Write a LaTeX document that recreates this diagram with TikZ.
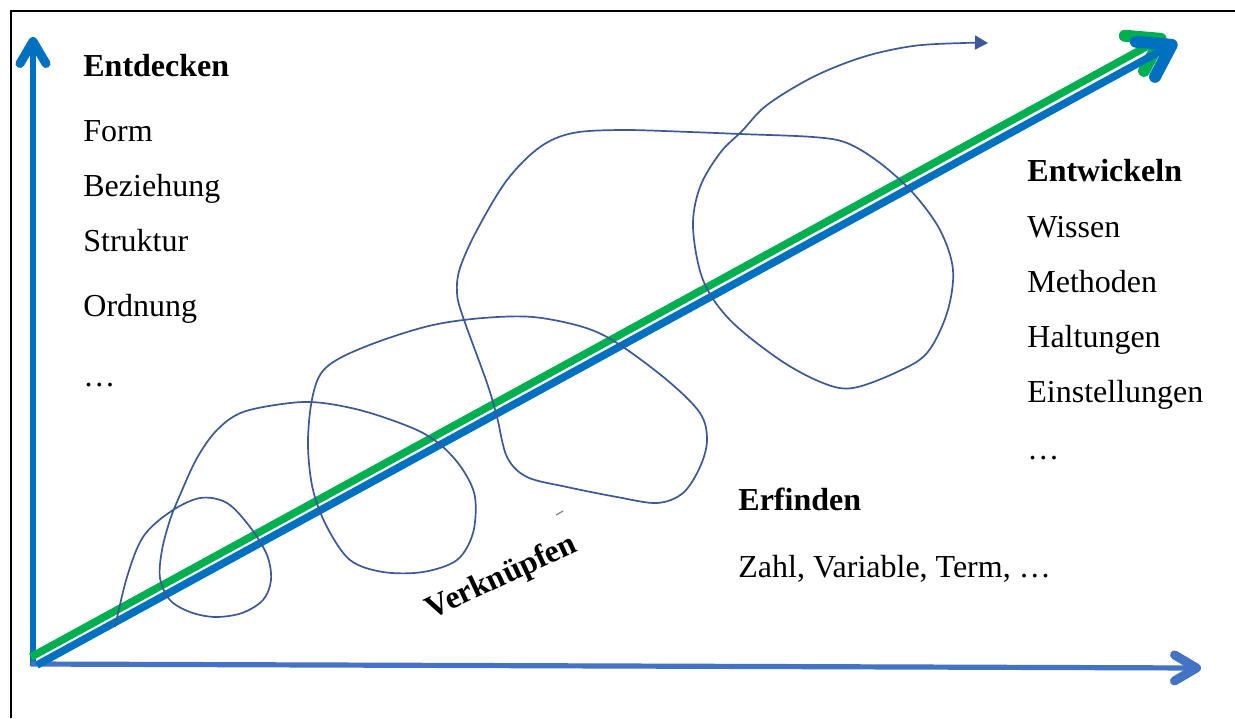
\documentclass[tikz,border=0pt]{standalone}
\usepackage{fontspec}
\setmainfont{Liberation Serif}
\usetikzlibrary{arrows.meta}
\definecolor{axisblue}{RGB}{0,112,192}
\definecolor{axisblue2}{RGB}{68,114,196}
\definecolor{lgreen}{RGB}{0,176,80}
\definecolor{spiralc}{RGB}{60,88,152}
\begin{document}
\begin{tikzpicture}[x=0.5pt,y=-0.5pt,
  txt/.style={anchor=base west, inner sep=0pt, font=\fontsize{16}{19}\selectfont},
  hd/.style={anchor=base west, inner sep=0pt, font=\fontsize{16}{19}\selectfont\bfseries},
  axisline/.style={line width=2.6pt, -{Straight Barb[length=11pt,width=13pt,line width=4.5pt,line cap=round,line join=round]}},
  diagline/.style={line width=3.8pt, -{Straight Barb[length=15pt,width=20pt,line width=6pt,line cap=round,line join=round]}},
  spiralline/.style={spiralc, line width=0.85pt, -{Triangle[length=6.5pt,width=7pt]}}
]
\useasboundingbox (0,0) rectangle (1235,718);
% frame (left and top edges)
\draw[line width=1pt] (11,718) -- (11,11) -- (1235,11);

% coordinates
\coordinate (O) at (33,666);
\coordinate (Ytip) at (33,37);
\coordinate (Xs) at (31,664);
\coordinate (Xtip) at (1201,668);
\coordinate (Gs) at (31,657);
\coordinate (Gtip) at (1166,36);
\coordinate (Bs) at (37,665);
\coordinate (Btip) at (1177,42);

% axes
\draw[axisline, axisblue] (O) -- (Ytip);
\draw[axisline, axisblue2] (Xs) -- (Xtip);
% diagonal arrows
\draw[diagline, lgreen] (Gs) -- (Gtip);
\draw[diagline, axisblue] (Bs) -- (Btip);

% spiral
\draw[spiralline] plot[smooth, tension=0.55] coordinates {
(115,627) (127,577) (143,537) (170,512) (200,498) (227,503) (250,527) (267,555) (271,580) (263,600) (242,613) (215,617) (190,612) (170,600) (160,578) (162,550) (170,520) (180,495) (197,458) (217,430) (243,412) (290,403) (323,403) (367,412) (417,430) (443,447) (463,470) (475,497) (473,533) (457,560) (423,572) (383,572) (350,560) (327,527) (313,490) (308,447) (311,405) (320,375) (340,358) (383,340) (433,325) (483,318) (533,317) (583,327) (617,343) (667,380) (700,413) (707,440) (700,467) (683,493) (657,503) (617,497) (567,487) (527,477) (507,457) (497,417) (487,383) (463,317) (457,293) (460,268) (477,230) (507,180) (540,147) (573,133) (623,130) (690,132) (740,134) (813,137) (847,143) (880,163) (913,193) (940,230) (953,270) (947,313) (927,353) (897,372) (853,388) (823,383) (780,360) (730,320) (703,280) (693,227) (700,187) (720,153) (742,131) (767,105) (813,77) (863,57) (913,46) (963,43) (988,43)};

% small mark
\draw[gray, line width=0.6pt] (556,515) -- (563,511);

% left texts
\node[hd] (ent) at (83,76) {Entdecken};
\node[txt] (form) at (83,141) {Form};
\node[txt] (bez) at (83,196) {Beziehung};
\node[txt] (str) at (83,251) {Struktur};
\node[txt] (ord) at (83,316) {Ordnung};
\node[txt] (dots1) at (83,386) {…};

% right texts
\node[hd] (entw) at (1027,181) {Entwickeln};
\node[txt] (wis) at (1027,237) {Wissen};
\node[txt] (met) at (1027,292) {Methoden};
\node[txt] (hal) at (1027,347) {Haltungen};
\node[txt] (ein) at (1027,402) {Einstellungen};
\node[txt] (dots2) at (1027,459) {…};

% Erfinden
\node[hd] (erf) at (738,510) {Erfinden};
\node[txt] (zahl) at (738,577) {Zahl, Variable, Term, …};

% Verknuepfen
\node[inner sep=0pt, font=\fontsize{16}{19}\selectfont\bfseries, rotate=25] (verk) at (502,578) {Verknüpfen};
\end{tikzpicture}
\end{document}
